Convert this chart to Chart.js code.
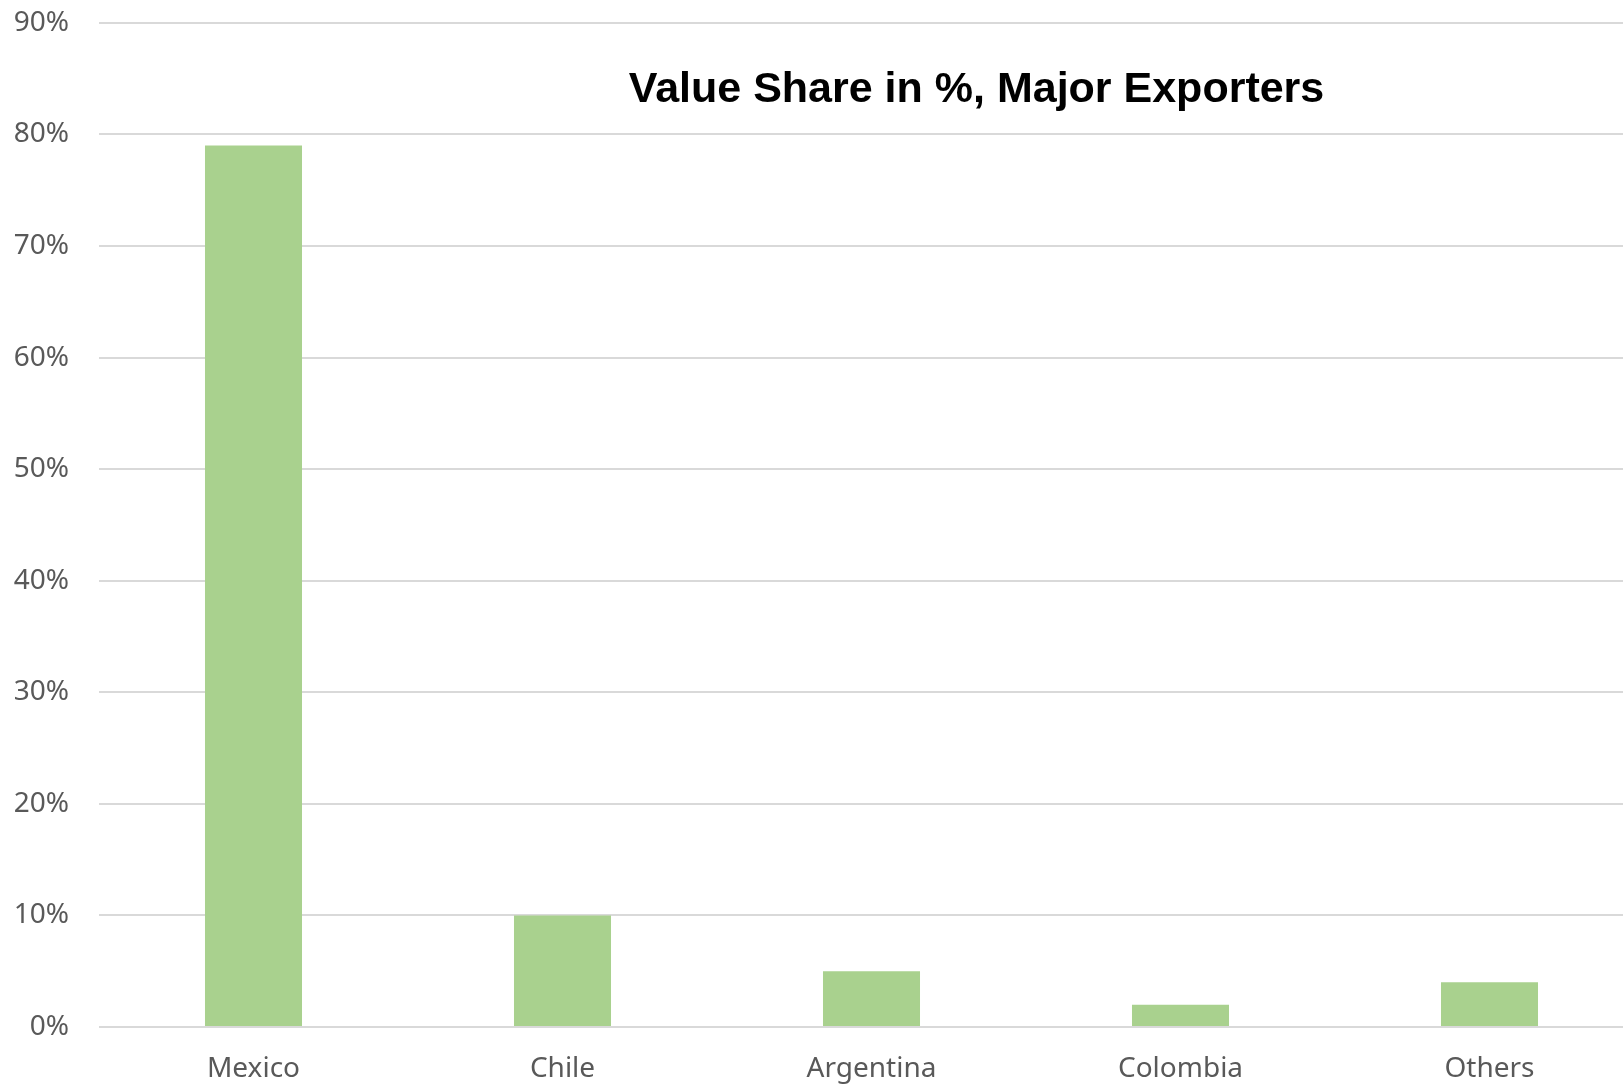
<!DOCTYPE html>
<html lang="en">
<head>
  <meta charset="UTF-8" />
  <title>Value Share in %, Major Exporters</title>
  <script src="https://cdn.jsdelivr.net/npm/chart.js@4.4.0/dist/chart.umd.min.js"></script>
  <style>
body { margin: 0; background: #fff; overflow: hidden; }
/* plot runs a little past the right edge and the top label margin is trimmed, like the source */
.chart-box { position: relative; top: -24px; width: 1644px; height: 1108px; }
  </style>
</head>
<body>
  <div class="chart-box"><canvas id="shareChart"></canvas></div>

  <script>
    // data
    const countries = ['Mexico', 'Chile', 'Argentina', 'Colombia', 'Others'];
    const shares = [79, 10, 5, 2, 4];
    const yTicks = [0, 10, 20, 30, 40, 50, 60, 70, 80, 90];

    const chartTitle = 'Value Share in %, Major Exporters';

    // title sits inside the plot area, right of centre
    const titleInPlot = {
      id: 'titleInPlot',
      afterDraw(chart) {
        const a = chart.chartArea, ctx = chart.ctx;
        ctx.save();
        ctx.font = 'bold 43px "Liberation Sans", Arial, sans-serif';
        ctx.fillStyle = '#000';
        ctx.textAlign = 'center';
        ctx.textBaseline = 'middle';
        ctx.fillText(chartTitle, a.left + a.width * 0.568, 114);
        ctx.restore();
      }
    };

    const tickFont = { family: '"Noto Sans", sans-serif', size: 28 };

    new Chart(document.getElementById('shareChart'), {
      type: 'bar',
      data: {
        labels: countries,
        datasets: [{
          data: shares,
          backgroundColor: '#a9d18e',
          categoryPercentage: 1,
          barPercentage: 0.314
        }]
      },
      options: {
        responsive: true,
        maintainAspectRatio: false,
        animation: false,
        layout: { padding: 0 },
        plugins: { legend: { display: false }, tooltip: { enabled: false } },
        scales: {
          x: {
            grid: { display: false },
            border: { display: false },
            afterFit: s => { s.height = 57; },
            ticks: { color: '#595959', font: tickFont, padding: 17 }
          },
          y: {
            min: 0, max: 90,
            afterBuildTicks: s => { s.ticks = yTicks.map(v => ({ value: v })); },
            afterFit: s => { s.width = 99; },
            grid: { color: '#d9d9d9', lineWidth: 2, drawTicks: false },
            border: { display: false },
            ticks: { color: '#595959', font: tickFont, padding: 30, callback: v => v + '%' }
          }
        }
      },
      plugins: [titleInPlot]
    });
  </script>
</body>
</html>
